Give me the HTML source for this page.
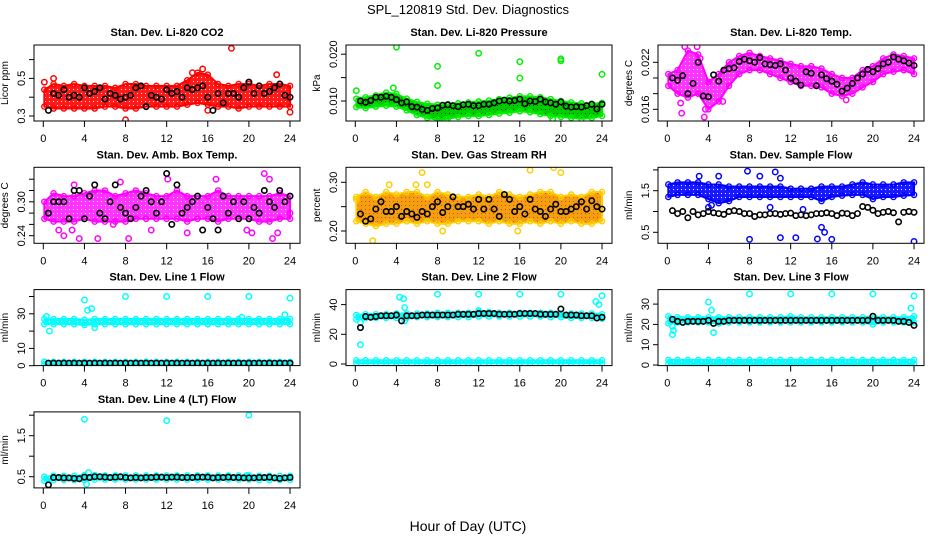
<!DOCTYPE html>
<html><head><meta charset="utf-8"><style>
html,body{margin:0;padding:0;background:#fff;}
svg{display:block;font-family:"Liberation Sans",Arial,sans-serif;}
</style></head><body>
<svg id="chart" width="936" height="540" viewBox="0 0 936 540">
<text x="468" y="14" text-anchor="middle" font-size="13">SPL_120819  Std. Dev. Diagnostics</text>
<text x="468" y="531" text-anchor="middle" font-size="14">Hour of Day (UTC)</text>
</svg>
<script>
const bandHours = [0,1,2,3,4,5,6,7,8,9,10,11,12,13,14,15,16,17,18,19,20,21,22,23,24];
const blackHours = [0.5,1,1.5,2,2.5,3,3.5,4,4.5,5,5.5,6,6.5,7,7.5,8,8.5,9,9.5,10,10.5,11,11.5,12,12.5,13,13.5,14,14.5,15,15.5,16,16.5,17,17.5,18,18.5,19,19.5,20,20.5,21,21.5,22,22.5,23,23.5,24];
const xTicks = [0,4,8,12,16,20,24];

// CO2
const co2Lo = [0.35,0.34,0.34,0.34,0.34,0.34,0.35,0.35,0.34,0.34,0.35,0.35,0.35,0.35,0.36,0.37,0.36,0.35,0.35,0.34,0.35,0.35,0.35,0.35,0.35];
const co2Hi = [0.44,0.47,0.46,0.47,0.46,0.46,0.46,0.45,0.47,0.47,0.46,0.46,0.46,0.46,0.49,0.53,0.52,0.47,0.46,0.47,0.47,0.46,0.47,0.47,0.46];
const co2Black = [0.33,0.42,0.41,0.44,0.40,0.41,0.40,0.45,0.42,0.43,0.45,0.39,0.42,0.41,0.39,0.40,0.41,0.45,0.46,0.35,0.41,0.40,0.39,0.44,0.42,0.43,0.40,0.45,0.44,0.45,0.46,0.40,0.33,0.42,0.37,0.42,0.42,0.40,0.45,0.48,0.42,0.46,0.42,0.43,0.45,0.47,0.41,0.40];
const co2OutH = [18.3,8,24,16,15.5,14.5,0.1,1,22.7];
const co2OutV = [0.66,0.28,0.32,0.33,0.55,0.53,0.48,0.50,0.52];

// Pressure
const presLo = [0.0087,0.0085,0.0088,0.0090,0.0088,0.0080,0.0070,0.0064,0.0060,0.0062,0.0066,0.0068,0.0068,0.0070,0.0073,0.0075,0.0078,0.0076,0.0072,0.0068,0.0066,0.0064,0.0062,0.0064,0.0068];
const presHi = [0.0105,0.0108,0.0112,0.0118,0.0115,0.0105,0.0098,0.0094,0.0092,0.0093,0.0095,0.0097,0.0099,0.0101,0.0104,0.0107,0.0110,0.0110,0.0108,0.0104,0.0100,0.0097,0.0095,0.0094,0.0096];
const presBlack = [0.0100,0.0097,0.0101,0.0108,0.0108,0.0110,0.0108,0.0103,0.0096,0.0098,0.0088,0.0087,0.0082,0.0080,0.0084,0.0085,0.0091,0.0092,0.0090,0.0088,0.0092,0.0093,0.0090,0.0090,0.0093,0.0093,0.0096,0.0100,0.0102,0.0100,0.0101,0.0104,0.0094,0.0100,0.0099,0.0104,0.0098,0.0096,0.0093,0.0098,0.0089,0.0087,0.0088,0.0087,0.0090,0.0093,0.0083,0.0093];
const presOutH = [4,12,8,8,16,16,20,20,24,0.1,3.7,8.8,19.2];
const presOutV = [0.0215,0.0202,0.0174,0.0133,0.0184,0.0149,0.0190,0.0186,0.0157,0.0122,0.0128,0.0060,0.0062];

// Li-820 temp
const tempLo = [0.0190,0.0180,0.0175,0.0180,0.0160,0.0170,0.0190,0.0205,0.0210,0.0210,0.0205,0.0200,0.0195,0.0190,0.0190,0.0188,0.0180,0.0177,0.0180,0.0188,0.0195,0.0205,0.0208,0.0210,0.0205];
const tempHi = [0.0205,0.0210,0.0235,0.0230,0.0195,0.0205,0.0220,0.0228,0.0232,0.0228,0.0225,0.0222,0.0218,0.0215,0.0215,0.0212,0.0205,0.0200,0.0200,0.0210,0.0215,0.0225,0.0230,0.0228,0.0225];
const tempBlack = [0.0200,0.0197,0.0203,0.0180,0.0193,0.0220,0.0177,0.0176,0.0204,0.0196,0.0210,0.0212,0.0213,0.0221,0.0224,0.0222,0.0220,0.0226,0.0218,0.0217,0.0216,0.0218,0.0210,0.0200,0.0196,0.0191,0.0208,0.0206,0.0190,0.0204,0.0199,0.0196,0.0192,0.0183,0.0187,0.0193,0.0200,0.0205,0.0211,0.0208,0.0212,0.0218,0.0220,0.0227,0.0224,0.0222,0.0219,0.0216];
const tempOutH = [1.4,1.7,2.9,3.2,3.6,3.7,5.4,17.4,1.3];
const tempOutV = [0.0155,0.0240,0.0240,0.0225,0.0150,0.0160,0.0170,0.0172,0.0168];

// Amb box temp
const ambLo = [0.27,0.265,0.265,0.265,0.27,0.265,0.265,0.265,0.265,0.27,0.27,0.27,0.27,0.27,0.265,0.27,0.27,0.265,0.27,0.27,0.27,0.265,0.265,0.27,0.27];
const ambHi = [0.30,0.315,0.31,0.31,0.315,0.32,0.32,0.31,0.315,0.32,0.315,0.31,0.31,0.32,0.31,0.31,0.31,0.32,0.31,0.31,0.31,0.31,0.31,0.315,0.31];
const ambBlack = [0.28,0.30,0.30,0.30,0.27,0.32,0.32,0.27,0.31,0.33,0.28,0.27,0.30,0.33,0.29,0.28,0.27,0.29,0.31,0.32,0.30,0.28,0.30,0.35,0.26,0.33,0.28,0.29,0.30,0.31,0.25,0.29,0.27,0.25,0.31,0.28,0.30,0.27,0.30,0.27,0.29,0.28,0.32,0.30,0.29,0.32,0.30,0.31];
const ambOutH = [1.5,2,2.8,3.5,5.3,6.8,8.3,10.5,14,16.8,19.8,20.3,21.5,22,22.3,22.8,24,3,7.5,12.1];
const ambOutV = [0.25,0.24,0.25,0.235,0.235,0.26,0.235,0.25,0.245,0.34,0.25,0.245,0.35,0.34,0.235,0.245,0.28,0.33,0.335,0.34];

// Gas stream RH
const rhLo = [0.22,0.215,0.21,0.215,0.215,0.22,0.215,0.22,0.215,0.215,0.22,0.22,0.22,0.215,0.22,0.215,0.215,0.22,0.215,0.22,0.215,0.22,0.215,0.215,0.22];
const rhHi = [0.27,0.28,0.27,0.28,0.275,0.28,0.28,0.27,0.28,0.275,0.27,0.27,0.275,0.27,0.28,0.275,0.27,0.275,0.28,0.28,0.27,0.275,0.27,0.28,0.28];
const rhBlack = [0.235,0.22,0.225,0.245,0.26,0.24,0.24,0.25,0.23,0.24,0.235,0.228,0.24,0.235,0.25,0.26,0.238,0.25,0.27,0.25,0.25,0.255,0.245,0.265,0.245,0.265,0.245,0.23,0.275,0.265,0.24,0.25,0.235,0.265,0.245,0.24,0.23,0.245,0.255,0.24,0.24,0.245,0.25,0.26,0.245,0.262,0.25,0.245];
const rhOutH = [1.7,6.5,17,19.3,20,7,8.5,0.1,15.8,3.3,5.9];
const rhOutV = [0.18,0.32,0.325,0.33,0.32,0.295,0.20,0.265,0.20,0.295,0.295];

// Sample flow
const sampLo = [1.35,1.4,1.4,1.4,1.3,1.2,1.25,1.35,1.35,1.35,1.35,1.35,1.35,1.35,1.35,1.25,1.35,1.38,1.4,1.4,1.3,1.35,1.35,1.38,1.4];
const sampHi = [1.65,1.7,1.7,1.7,1.65,1.65,1.6,1.6,1.6,1.6,1.6,1.6,1.55,1.55,1.55,1.6,1.6,1.6,1.65,1.7,1.65,1.65,1.65,1.7,1.7];
const sampBlack = [1.02,0.95,1.0,0.85,1.0,0.92,0.95,1.0,0.97,0.95,0.93,1.0,1.02,1.0,0.95,0.95,0.88,0.92,0.92,0.95,0.95,0.93,0.95,0.96,0.90,0.92,0.90,0.92,0.95,0.95,0.97,0.95,0.90,0.96,0.95,0.90,0.95,1.12,1.10,1.03,0.95,0.98,1.0,0.97,0.75,0.98,1.0,0.98];
const sampOutH = [3.1,4,4.3,5,7.8,9,10.5,11,8,11,12.5,15,15.3,16,14.6,24,10,13.2];
const sampOutV = [1.85,1.1,1.15,1.85,1.97,1.85,1.95,1.80,0.33,0.37,0.37,0.62,0.50,0.33,0.34,0.28,1.1,1.05];

// Line 1 flow
const l1Lo = [24,24,24,24,23.5,24,24,24,24,24,24,24,24,24,24,24,24,24,24,24,24,24,24,24,24];
const l1Hi = [27,27,27,27,26.5,27,27,27,27,27,27,27,27,27,27,27,27,27,27,27,27,27,27,27,27];
const l1Lo2 = [0.8,0.8,0.8,0.8,0.8,0.8,0.8,0.8,0.8,0.8,0.8,0.8,0.8,0.8,0.8,0.8,0.8,0.8,0.8,0.8,0.8,0.8,0.8,0.8,0.8];
const l1Hi2 = [2.3,2.2,2.2,2.2,2.2,2.2,2.2,2.2,2.2,2.2,2.3,2.2,2.2,2.2,2.2,2.2,2.2,2.2,2.2,2.2,2.2,2.2,2.2,2.2,2.2];
const l1Black = [1.5,1.5,1.5,1.5,1.5,1.5,1.5,1.5,1.5,1.5,1.5,1.5,1.5,1.5,1.5,1.5,1.5,1.5,1.5,1.5,1.5,1.5,1.5,1.5,1.5,1.5,1.5,1.5,1.5,1.5,1.5,1.5,1.5,1.5,1.5,1.5,1.5,1.5,1.5,1.5,1.5,1.5,1.5,1.5,1.5,1.5,1.5,1.5];
const l1OutH = [4,4.3,4.7,8,12,16,20,24,0.6,5,23.5,19.3,0.3];
const l1OutV = [38,32,33,40,40,40,40,39,20,22,29.5,28,28.5];

// Line 2 flow
const l2Lo = [30,31,31,31,31,31,31.5,31.5,31.5,31.5,31.5,31.5,32,32,32,32,32,32,32,31.5,31.5,31,31,31,30.5];
const l2Hi = [33,33.5,33.5,33.5,34,34,34,34,34.5,34.5,34.5,34.5,35,35,34.5,34.5,34.5,34.5,34.5,34.5,34,34,34,34,33.5];
const l2Lo2 = [0.5,0.5,0.5,0.5,0.5,0.5,0.5,0.5,0.5,0.5,0.5,0.3,0.5,0.5,0.5,0.3,0.5,0.5,0.5,0.5,0.5,0.5,0.5,0.5,0.5];
const l2Hi2 = [2.5,2.5,2.5,2.5,2.5,2.5,2.5,2.5,2.5,2.5,2.5,2.5,2.5,2.5,2.5,2.5,2.5,2.5,2.5,2.5,2.5,2.5,2.5,2.5,2.5];
const l2Black = [24.5,32,31.5,32,32.5,32.5,32.5,33,29,32.5,32.5,32.5,33,33,33,33,33,33,33,33.5,33.5,33.5,33.5,34,34,34,34,33.5,33.5,33.5,33.5,34,34,34,34,33.5,33.5,33.5,33.5,37,33,33,33,32.5,32.5,32.5,31,31.5];
const l2OutH = [0.5,0.5,4.3,4.7,4.8,8,12,16,20,24,23.4,23.7,12,4.8];
const l2OutV = [13,28,45,44,38,47,47,47,47,46,42,40,36,29];

// Line 3 flow
const l3Lo = [20.5,21,21,21,21,20.5,21,21,21,21,21,21,21,21,21,21,21,21,21,21,20,21,21,21,21];
const l3Hi = [24,23.5,23.5,23.5,23.5,23.5,23.5,23.5,23.5,23.5,23.5,23.5,24,23.5,23.5,23.5,23.5,23.5,23.5,23.5,24,23.5,23.5,23.5,24];
const l3Lo2 = [0.5,0.5,0.5,0.5,0.5,0.5,0.5,0.5,0.5,0.5,0.5,0.5,0.3,0.5,0.5,0.5,0.5,0.5,0.5,0.5,0.5,0.5,0.5,0.5,0.5];
const l3Hi2 = [2.5,2.5,2.5,2.5,2.5,2.5,2.5,2.5,2.5,2.5,2.5,2.5,2.5,2.5,2.5,2.5,2.5,2.5,2.5,2.5,2.5,2.5,2.5,2.5,2.5];
const l3Black = [22.5,21.5,21,21.5,21.5,21.5,21.5,22,20.5,21.5,21.5,22,22,22,22,22,22,22,22,22,22,22,22,22,22,22,22,22,22,22,22,22,22,22,22,22,22,22,22,24,22,22,22,22,21.5,21.5,21,19.5];
const l3OutH = [4,4.3,4.5,0.5,0.6,0.5,8,12,16,20,24,23.7];
const l3OutV = [31,27,16,15,17,19,35,35,35,35,34,28];

// Line 4 flow
const l4Lo = [0.40,0.42,0.42,0.42,0.42,0.43,0.43,0.43,0.43,0.43,0.43,0.43,0.43,0.43,0.43,0.43,0.43,0.43,0.43,0.43,0.43,0.42,0.42,0.42,0.42];
const l4Hi = [0.50,0.52,0.52,0.52,0.54,0.54,0.53,0.53,0.53,0.53,0.53,0.53,0.53,0.53,0.53,0.53,0.53,0.53,0.53,0.53,0.53,0.52,0.52,0.52,0.52];
const l4Black = [0.30,0.48,0.48,0.47,0.47,0.46,0.45,0.49,0.48,0.50,0.50,0.49,0.48,0.49,0.50,0.48,0.47,0.48,0.47,0.48,0.48,0.49,0.49,0.48,0.49,0.49,0.48,0.48,0.48,0.49,0.49,0.49,0.47,0.48,0.48,0.49,0.48,0.48,0.47,0.47,0.47,0.48,0.48,0.49,0.47,0.46,0.47,0.48];
const l4OutH = [4,12,20,4.2,4.4,0.5,19.8];
const l4OutV = [1.90,1.87,2.00,0.32,0.60,0.30,0.53];

const NS = 'http://www.w3.org/2000/svg';
const svg = document.getElementById('chart');
function mk(tag, attrs, parent) {
  const e = document.createElementNS(NS, tag);
  for (const k in attrs) e.setAttribute(k, attrs[k]);
  (parent || svg).appendChild(e);
  return e;
}
const defs = mk('defs', {});

const panels = [
  {id:'co2', col:0,row:0,title:'Stan. Dev. Li-820 CO2', ylab:'Licor ppm', ref:0.3, refPx:71, ppu:188, ticks:[0.3,0.4,0.5,0.6], labels:['0.3','','0.5',''], color:'#ff0000', fill:'#ff1a1a', bands:[[co2Lo,co2Hi]], black:co2Black, outH:co2OutH, outV:co2OutV},
  {id:'pressure', col:1,row:0,title:'Stan. Dev. Li-820 Pressure', ylab:'kPa', ref:0.010, refPx:56, ppu:4680, ticks:[0.010,0.015,0.020], labels:['0.010','','0.020'], color:'#00ee00', fill:'#00cc00', bands:[[presLo,presHi]], black:presBlack, outH:presOutH, outV:presOutV},
  {id:'li820-temp', col:2,row:0,title:'Stan. Dev. Li-820 Temp.', ylab:'degrees C', ref:0.016, refPx:64.3, ppu:7830, ticks:[0.016,0.018,0.020,0.022], labels:['0.016','','','0.022'], color:'#ff00ff', fill:'#ff33ff', bands:[[tempLo,tempHi]], black:tempBlack, outH:tempOutH, outV:tempOutV},
  {id:'amb-box-temp', col:0,row:1,title:'Stan. Dev. Amb. Box Temp.', ylab:'degrees C', ref:0.24, refPx:68.4, ppu:565, ticks:[0.24,0.26,0.28,0.30,0.32,0.34], labels:['0.24','','','0.30','',''], color:'#ff00ff', fill:'#ff33ff', bands:[[ambLo,ambHi]], black:ambBlack, outH:ambOutH, outV:ambOutV},
  {id:'gas-stream-rh', col:1,row:1,title:'Stan. Dev. Gas Stream RH', ylab:'percent', ref:0.20, refPx:63.7, ppu:487, ticks:[0.20,0.25,0.30], labels:['0.20','','0.30'], color:'#ffcc00', fill:'#f0a010', bands:[[rhLo,rhHi]], black:rhBlack, outH:rhOutH, outV:rhOutV},
  {id:'sample-flow', col:2,row:1,title:'Stan. Dev. Sample Flow', ylab:'ml/min', ref:0.5, refPx:65, ppu:41.6, ticks:[0.5,1.0,1.5,2.0], labels:['0.5','','1.5',''], color:'#0000ff', fill:'#1a1aff', bands:[[sampLo,sampHi]], black:sampBlack, outH:sampOutH, outV:sampOutV},
  {id:'line1-flow', col:0,row:2,title:'Stan. Dev. Line 1 Flow', ylab:'ml/min', ref:0, refPx:76.1, ppu:1.73, ticks:[0,10,20,30,40], labels:['0','10','','30',''], color:'#00ffff', fill:'#22eeee', bands:[[l1Lo,l1Hi],[l1Lo2,l1Hi2]], black:l1Black, outH:l1OutH, outV:l1OutV},
  {id:'line2-flow', col:1,row:2,title:'Stan. Dev. Line 2 Flow', ylab:'ml/min', ref:0, refPx:74.4, ppu:1.485, ticks:[0,20,40], labels:['0','20','40'], color:'#00ffff', fill:'#22eeee', bands:[[l2Lo,l2Hi],[l2Lo2,l2Hi2]], black:l2Black, outH:l2OutH, outV:l2OutV},
  {id:'line3-flow', col:2,row:2,title:'Stan. Dev. Line 3 Flow', ylab:'ml/min', ref:0, refPx:75.4, ppu:2.03, ticks:[0,10,20,30], labels:['0','10','20','30'], color:'#00ffff', fill:'#22eeee', bands:[[l3Lo,l3Hi],[l3Lo2,l3Hi2]], black:l3Black, outH:l3OutH, outV:l3OutV},
  {id:'line4-flow', col:0,row:3,title:'Stan. Dev. Line 4 (LT) Flow', ylab:'ml/min', ref:0.5, refPx:64.8, ppu:41, ticks:[0.5,1.0,1.5,2.0], labels:['0.5','','1.5',''], color:'#00ffff', fill:'#22eeee', bands:[[l4Lo,l4Hi]], black:l4Black, outH:l4OutH, outV:l4OutV}
];

panels.forEach(p => {
  const L = 34 + p.col*312, T = 45 + p.row*122.3, W = 266, H = 76;
  const xs = h => L + 9.3 + h*10.28;
  const ys = v => T + p.refPx - (v - p.ref)*p.ppu;
  const patId = 'pat-' + p.id;
  const pat = mk('pattern', {id:patId, width:4, height:4, patternUnits:'userSpaceOnUse'}, defs);
  mk('rect', {x:0, y:0, width:4, height:4, fill:p.fill}, pat);
  mk('rect', {x:1, y:1, width:1, height:1, fill:p.id === 'pressure' ? '#004400' : (p.id === 'gas-stream-rh' ? '#ff3300' : '#ffffff')}, pat);
  const g = mk('g', {});
  
  
  const clipId = 'clip-' + p.id;
  const cp = mk('clipPath', {id: clipId}, g);
  mk('rect', {x:L, y:T, width:W, height:H}, cp);
  const t = mk('text', {x:L+W/2, y:T-9, 'text-anchor':'middle', 'font-size':11, 'font-weight':'bold'}, g);
  t.textContent = p.title;
  
  
  const yt = mk('text', {x:L-26, y:T+H/2, 'text-anchor':'middle', 'font-size':10, transform:`rotate(-90 ${L-26} ${T+H/2})`}, g);
  yt.textContent = p.ylab;
  
  
  p.ticks.forEach((tv, i) => {
    const y = ys(tv);
    mk('line', {x1:L-5, x2:L, y1:y, y2:y, stroke:'#000', 'stroke-width':1}, g);
    if (p.labels[i]) {
      const lt = mk('text', {x:L-9, y:y, 'text-anchor':'middle', 'font-size':11, transform:`rotate(-90 ${L-9} ${y})`}, g);
      lt.textContent = p.labels[i];
      
      
    }
  });
  mk('line', {x1:L, x2:L, y1:ys(p.ticks[0]), y2:ys(p.ticks[p.ticks.length-1]), stroke:'#000'}, g);
  xTicks.forEach(h => {
    const x = xs(h);
    mk('line', {x1:x, x2:x, y1:T+H, y2:T+H+6, stroke:'#000'}, g);
    const lt = mk('text', {x:x, y:T+H+21, 'text-anchor':'middle', 'font-size':11}, g);
    lt.textContent = h;
    
    
  });
  const plot = mk('g', {'clip-path':`url(#${clipId})`}, g);
  p.bands.forEach(([lo, hi]) => {
    let pts = [];
    bandHours.forEach((h, i) => pts.push(`${xs(Math.max(h,0.1))},${ys(hi[i])}`));
    for (let i = bandHours.length-1; i >= 0; i--) pts.push(`${xs(Math.max(bandHours[i],0.1))},${ys(lo[i])}`);
    const poly = mk('polygon', {points:pts.join(' '), fill:`url(#${patId})`, stroke:p.color, 'stroke-width':2, 'stroke-linejoin':'round'}, plot);
    
    
    for (let i = 0; i < bandHours.length; i++) {
      [lo[i], hi[i]].forEach(v => {
        const c = mk('circle', {cx:xs(Math.max(bandHours[i],0.1)), cy:ys(v), r:2.6, fill:'none', stroke:p.color, 'stroke-width':1.4}, plot);
        
        
      });
    }
  });
  p.outH.forEach((h, i) => {
    const c = mk('circle', {cx:xs(h), cy:ys(p.outV[i]), r:2.7, fill:'none', stroke:p.color, 'stroke-width':1.5}, plot);
    
    
  });
  p.black.forEach((v, i) => {
    const c = mk('circle', {cx:xs(blackHours[i]), cy:ys(v), r:2.7, fill:'none', stroke:'#000', 'stroke-width':1.6}, plot);
    
    
  });
  const box = mk('rect', {x:L, y:T, width:W, height:H, fill:'none', stroke:'#000', 'stroke-width':1}, g);
  
  
});
</script>
</body></html>
